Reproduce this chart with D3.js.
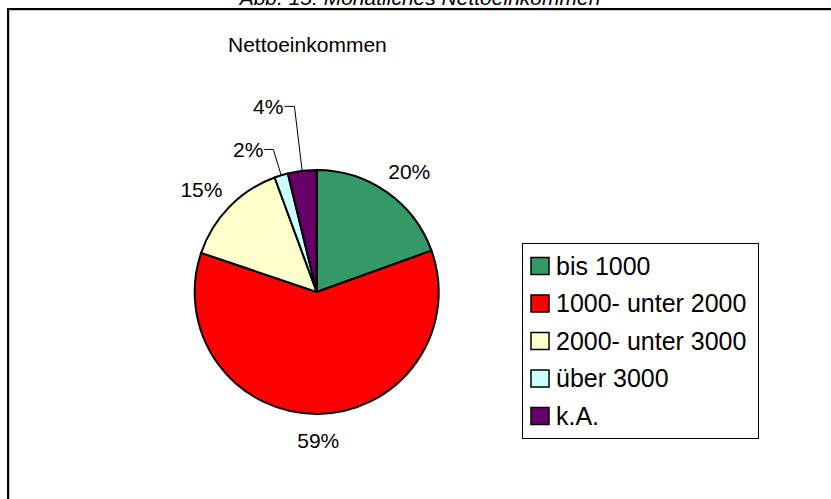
<!DOCTYPE html>
<html>
<head>
<meta charset="utf-8">
<script src="https://cdn.jsdelivr.net/npm/d3@7"></script>
<style>
  body { margin: 0; background: #fff; }
  text { font-family: "Liberation Sans", Arial, sans-serif; fill: #000; }
</style>
</head>
<body>
<svg id="chart" width="831" height="499"></svg>
<script>
const categories = ['bis 1000', '1000- unter 2000', '2000- unter 3000', 'über 3000', 'k.A.'];
const shares = [19.5, 60.7, 14.2, 1.8, 3.8];
const shareLabels = ['20%', '59%', '15%', '2%', '4%'];
const pageTitle = 'Abb. 15: Monatliches Nettoeinkommen';
const chartTitle = 'Nettoeinkommen';

const svg = d3.select('#chart');

const color = d3.scaleOrdinal()
    .domain(categories)
    .range(['#339966', '#ff0000', '#ffffcc', '#ccffff', '#660066']);

// caption above the frame, mostly cut off at the top edge (as in the original)
svg.append('text')
    .attr('x', 420)
    .attr('y', 5)
    .attr('text-anchor', 'middle')
    .attr('font-size', 21)
    .attr('font-style', 'italic')
    .text(pageTitle);

// chart frame (runs off the right and bottom edges)
svg.append('rect')
    .attr('x', 9).attr('y', 10)
    .attr('width', 840).attr('height', 500)
    .attr('fill', 'none')
    .attr('stroke', '#999')
    .attr('stroke-width', 1);
svg.append('rect')
    .attr('x', 8).attr('y', 9)
    .attr('width', 840).attr('height', 500)
    .attr('fill', 'none')
    .attr('stroke', '#000')
    .attr('stroke-width', 2);

svg.append('text')
    .attr('x', 228)
    .attr('y', 52)
    .attr('font-size', 21)
    .text(chartTitle);

// pie
const cx = 316.7, cy = 292, radius = 122;
const g = svg.append('g').attr('transform', 'translate(' + cx + ',' + cy + ')');

const pie = d3.pie().sort(null).value(d => d)(shares);
const arc = d3.arc().innerRadius(0).outerRadius(radius);

g.selectAll('path.slice')
    .data(pie)
  .enter().append('path')
    .attr('class', 'slice')
    .attr('d', arc)
    .attr('fill', (d, i) => color(categories[i]))
    .attr('stroke', '#000')
    .attr('stroke-width', 2)
    .attr('stroke-linejoin', 'round');

// labels: big slices sit just outside the rim, small ones get a leader line
const leader = {3: {r: 149, len: 9}, 4: {r: 187, len: 10}};
const fontSize = 21;
const labelR = 140;

pie.forEach((d, i) => {
    const a = (d.startAngle + d.endAngle) / 2;
    const sx = Math.sin(a), sy = -Math.cos(a);
    if (leader[i]) {
        const L = leader[i];
        const ex = sx * L.r, ey = sy * L.r;
        g.append('polyline')
            .attr('points', [[ex - L.len, ey], [ex, ey], [sx * radius, sy * radius]].map(p => p.join(',')).join(' '))
            .attr('fill', 'none')
            .attr('stroke', '#000')
            .attr('stroke-width', 1);
        g.append('text')
            .attr('x', ex - L.len - 1)
            .attr('y', ey)
            .attr('dy', '0.35em')
            .attr('text-anchor', 'end')
            .attr('font-size', fontSize)
            .text(shareLabels[i]);
    } else {
        const t = g.append('text')
            .attr('font-size', fontSize)
            .attr('text-anchor', 'middle')
            .text(shareLabels[i]);
        const w = t.node().getComputedTextLength();
        const h = fontSize * 0.75;
        t.attr('x', sx * labelR + sx * w / 2)
         .attr('y', sy * labelR + sy * h / 2 + h / 2);
    }
});

// legend
const legend = svg.append('g');
legend.append('rect')
    .attr('x', 522.5).attr('y', 243.5)
    .attr('width', 236).attr('height', 195)
    .attr('fill', '#fff')
    .attr('stroke', '#000')
    .attr('stroke-width', 1);

const rowY = d3.scalePoint().domain(categories).range([265.5, 415.5]);

const rows = legend.selectAll('g.row')
    .data(categories)
  .enter().append('g')
    .attr('class', 'row')
    .attr('transform', d => 'translate(0,' + rowY(d) + ')');

rows.append('rect')
    .attr('x', 531).attr('y', -8)
    .attr('width', 18).attr('height', 17)
    .attr('fill', d => color(d))
    .attr('stroke', '#000')
    .attr('stroke-width', 1.5);

rows.append('text')
    .attr('x', 556)
    .attr('y', 9)
    .attr('font-size', 25)
    .text(d => d);
</script>
</body>
</html>
